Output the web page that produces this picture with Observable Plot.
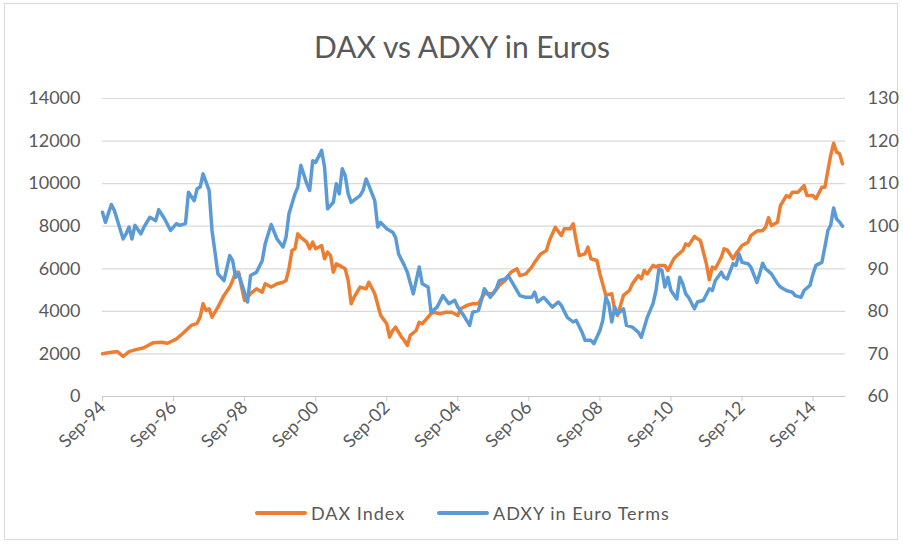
<!DOCTYPE html>
<html>
<head>
<meta charset="utf-8">
<script src="https://cdn.jsdelivr.net/npm/d3@7"></script>
<script src="https://cdn.jsdelivr.net/npm/@observablehq/plot@0.6"></script>
<style>
  html, body { margin: 0; padding: 0; background: #fff; overflow: hidden; }
  #frame { position: absolute; left: 4px; top: 3px; width: 894px; height: 537px; border: 1px solid #d9d9d9; box-sizing: border-box; }
  #title { position: absolute; left: 24px; width: 876px; top: 26px; text-align: center; font-family: Lato, sans-serif; font-size: 30px; color: #595959; line-height: 40px; }
  #chart { position: absolute; left: 0; top: 70px; }
  #legend { position: absolute; left: 0; top: 500px; width: 903px; height: 26px; font-family: Lato, sans-serif; font-size: 18px; color: #595959; letter-spacing: 1px; }
  .item { position: absolute; top: 0; display: flex; align-items: center; height: 26px; }
  .sw { width: 52px; height: 4px; border-radius: 2px; margin-right: 4px; }
</style>
</head>
<body>
<div id="frame"></div>
<div id="title">DAX vs ADXY in Euros</div>
<div id="chart"></div>
<div id="legend"></div>
<script>
// ---- Data ----
const seriesNames = ["DAX Index", "ADXY in Euro Terms"];
const seriesColors = ["#ED7D31", "#5B9BD5"];

const daxMonths = ["1994-09","1994-12","1995-02","1995-04","1995-06","1995-08","1995-11","1996-02","1996-05","1996-07","1996-10","1996-12","1997-03","1997-05","1997-06","1997-07","1997-08","1997-09","1997-10","1997-12","1998-02","1998-04","1998-05","1998-06","1998-07","1998-08","1998-09","1998-11","1999-01","1999-03","1999-04","1999-06","1999-08","1999-10","1999-11","1999-12","2000-01","2000-02","2000-03","2000-04","2000-06","2000-07","2000-08","2000-09","2000-11","2000-12","2001-01","2001-02","2001-03","2001-04","2001-05","2001-07","2001-08","2001-09","2001-10","2001-12","2002-02","2002-03","2002-05","2002-07","2002-09","2002-10","2002-11","2002-12","2003-02","2003-03","2003-04","2003-05","2003-07","2003-08","2003-09","2003-10","2003-12","2004-01","2004-03","2004-05","2004-07","2004-09","2004-10","2004-12","2005-02","2005-04","2005-06","2005-09","2005-11","2006-01","2006-03","2006-05","2006-06","2006-08","2006-10","2006-11","2007-01","2007-03","2007-04","2007-06","2007-08","2007-09","2007-11","2007-12","2008-01","2008-02","2008-04","2008-05","2008-06","2008-08","2008-09","2008-11","2009-01","2009-02","2009-03","2009-05","2009-07","2009-08","2009-10","2009-11","2009-12","2010-01","2010-03","2010-04","2010-05","2010-07","2010-08","2010-10","2010-11","2011-01","2011-02","2011-03","2011-05","2011-06","2011-07","2011-09","2011-10","2011-11","2011-12","2012-02","2012-03","2012-04","2012-06","2012-07","2012-09","2012-11","2012-12","2013-02","2013-04","2013-05","2013-06","2013-07","2013-09","2013-10","2013-12","2014-01","2014-02","2014-04","2014-06","2014-07","2014-09","2014-10","2014-12","2015-01","2015-02","2015-03","2015-04","2015-05","2015-06","2015-07"];
const daxValues = [2010,2080,2110,1880,2110,2190,2290,2520,2550,2500,2710,2950,3340,3440,3730,4360,4040,4120,3730,4200,4750,5140,5450,5840,5840,5140,4510,4830,5060,4900,5300,5140,5300,5370,5450,6000,6860,6940,7640,7480,7250,6940,7250,6940,7090,6470,6780,6620,5840,6230,6160,6000,5450,4360,4670,5140,5060,5370,4830,3810,3420,2790,3100,3260,2790,2630,2400,2870,3100,3490,3420,3570,3890,3960,3890,3960,3960,3810,4120,4280,4360,4360,4830,4830,5220,5450,5840,6000,5680,5760,6080,6310,6700,6860,7330,7950,7560,7880,7880,8110,7330,6620,6700,7020,6470,6390,5760,4750,4830,4040,3810,4750,4980,5300,5680,5530,5920,5760,6160,6080,6160,6160,5920,6470,6620,6860,7170,7090,7520,7410,7330,6230,5480,6080,6000,6540,6940,6890,6470,6700,7090,7250,7560,7770,7800,7950,8400,8030,8190,8970,9440,9360,9600,9600,9910,9440,9440,9290,9830,9830,10620,11320,11900,11480,11400,10930];

const adxyMonths = ["1994-09","1994-10","1994-12","1995-01","1995-04","1995-05","1995-06","1995-07","1995-08","1995-10","1995-11","1996-01","1996-03","1996-04","1996-06","1996-08","1996-10","1996-11","1997-01","1997-02","1997-04","1997-05","1997-06","1997-07","1997-09","1997-10","1997-12","1998-02","1998-04","1998-05","1998-06","1998-07","1998-10","1998-11","1999-01","1999-03","1999-04","1999-06","1999-08","1999-10","1999-11","1999-12","2000-02","2000-03","2000-04","2000-06","2000-07","2000-08","2000-09","2000-11","2000-12","2001-01","2001-03","2001-04","2001-05","2001-06","2001-07","2001-08","2001-09","2001-12","2002-01","2002-02","2002-03","2002-05","2002-06","2002-07","2002-09","2002-11","2002-12","2003-01","2003-03","2003-04","2003-06","2003-07","2003-08","2003-09","2003-11","2003-12","2004-02","2004-04","2004-06","2004-08","2004-09","2004-11","2005-01","2005-02","2005-04","2005-05","2005-06","2005-08","2005-10","2005-11","2006-01","2006-02","2006-04","2006-06","2006-08","2006-10","2006-11","2006-12","2007-02","2007-03","2007-05","2007-07","2007-08","2007-10","2007-12","2008-01","2008-03","2008-04","2008-06","2008-07","2008-09","2008-10","2008-11","2008-12","2009-01","2009-02","2009-03","2009-05","2009-06","2009-08","2009-10","2009-11","2010-01","2010-03","2010-04","2010-05","2010-06","2010-07","2010-08","2010-09","2010-11","2010-12","2011-01","2011-02","2011-03","2011-05","2011-06","2011-08","2011-10","2011-11","2011-12","2012-02","2012-03","2012-04","2012-06","2012-07","2012-08","2012-09","2012-11","2012-12","2013-02","2013-03","2013-04","2013-05","2013-07","2013-09","2013-10","2013-12","2014-02","2014-03","2014-05","2014-06","2014-08","2014-09","2014-10","2014-12","2015-01","2015-02","2015-03","2015-04","2015-05","2015-06","2015-07"];
const adxyValues = [103.3,100.9,105.1,103.7,97.0,98.2,99.8,97.0,100.2,98.2,99.8,102.1,101.3,103.9,101.7,99.0,100.6,100.2,100.6,108.0,106.0,108.8,109.2,112.3,108.4,99.0,88.8,87.2,93.1,91.9,88.0,88.8,82.2,88.4,89.2,91.9,95.9,100.4,97.0,95.1,97.4,102.9,107.6,109.2,114.3,110.0,108.4,115.4,115.0,117.8,113.9,104.1,105.6,110.0,107.6,113.5,111.9,107.6,105.6,107.2,108.4,111.1,109.6,106.0,99.8,100.9,99.4,98.6,97.4,93.5,90.8,89.2,84.1,87.2,90.4,86.5,85.7,79.8,81.0,83.7,81.8,82.6,81.0,79.0,76.7,79.8,80.2,82.6,85.3,83.3,85.3,87.2,87.6,88.4,86.1,83.7,83.3,83.3,84.5,82.2,83.3,82.6,81.0,82.2,81.4,78.6,77.5,77.9,75.1,73.2,73.2,72.4,75.5,77.9,83.3,81.8,77.5,81.0,79.4,80.6,76.7,76.3,75.1,73.9,78.6,81.8,84.9,90.0,89.6,85.7,88.0,84.9,82.9,88.0,86.5,84.1,83.3,80.6,82.2,82.6,85.3,84.9,87.2,89.2,88.0,87.6,91.2,90.8,93.5,91.5,91.2,90.4,86.8,88.8,91.3,90.0,88.8,86.5,85.7,84.9,84.5,83.7,83.3,84.9,86.1,88.8,90.8,91.5,95.1,99.0,100.2,104.3,101.7,101.0,100.0];

const xTickMonths = ["1994-09","1996-09","1998-09","2000-09","2002-09","2004-09","2006-09","2008-09","2010-09","2012-09","2014-09"];
const leftTicks = [0,2000,4000,6000,8000,10000,12000,14000];
const rightTicks = [60,70,80,90,100,110,120,130];
const xDomainMonths = ["1994-09","2015-08"];

// ---- Build ----
const parse = d3.utcParse("%Y-%m");
const fmt = d3.utcFormat("%b-%y");
const dax = daxMonths.map((m, i) => ({date: parse(m), value: daxValues[i]}));
const adxy = adxyMonths.map((m, i) => ({date: parse(m), value: adxyValues[i]}));
// right axis (60..130) mapped onto the left axis scale (0..14000)
const rMin = rightTicks[0], rMax = rightTicks[rightTicks.length - 1];
const lMax = leftTicks[leftTicks.length - 1];
const toLeft = v => (v - rMin) / (rMax - rMin) * lMax;
const toRight = d => Math.round(rMin + d / lMax * (rMax - rMin));

const textColor = "#595959";
const fontFamily = "Lato, sans-serif";

const chart = Plot.plot({
  width: 903,
  height: 410,
  marginLeft: 102,
  marginRight: 58,
  marginTop: 28,
  marginBottom: 84,
  style: {fontFamily, fontSize: "18px", color: textColor, background: "transparent"},
  x: {type: "utc", domain: xDomainMonths.map(parse)},
  y: {domain: [0, lMax]},
  marks: [
    Plot.gridY(leftTicks, {stroke: "#d9d9d9", strokeOpacity: 1, strokeWidth: 1.2}),
    Plot.ruleY([0], {stroke: "#c8c8c8", strokeWidth: 1.2}),
    Plot.axisX(xTickMonths.map(parse), {
      tickFormat: d => fmt(d),
      tickRotate: -45,
      tickSize: 5,
      tickPadding: 3,
      stroke: "#c8c8c8",
      fill: textColor,
      fontSize: 18,
      label: null
    }),
    Plot.axisY(leftTicks, {anchor: "left", tickSize: 0, tickPadding: 22, tickFormat: d => String(d), fill: textColor, fontSize: 18, label: null}),
    Plot.axisY(rightTicks.map(toLeft), {anchor: "right", tickSize: 0, tickPadding: 22, tickFormat: d => String(toRight(d)), fill: textColor, fontSize: 18, label: null}),
    Plot.line(dax, {x: "date", y: "value", stroke: seriesColors[0], strokeWidth: 3.5, strokeLinejoin: "round", strokeLinecap: "round"}),
    Plot.line(adxy, {x: "date", y: d => toLeft(d.value), stroke: seriesColors[1], strokeWidth: 3.5, strokeLinejoin: "round", strokeLinecap: "round"})
  ]
});
document.getElementById("chart").appendChild(chart);

// legend
const legend = document.getElementById("legend");
const lefts = [255, 437];
seriesNames.forEach((name, i) => {
  const it = document.createElement("div");
  it.className = "item";
  it.style.left = lefts[i] + "px";
  const sw = document.createElement("div");
  sw.className = "sw";
  sw.style.background = seriesColors[i];
  const tx = document.createElement("span");
  tx.textContent = name;
  it.appendChild(sw);
  it.appendChild(tx);
  legend.appendChild(it);
});
</script>
</body>
</html>
